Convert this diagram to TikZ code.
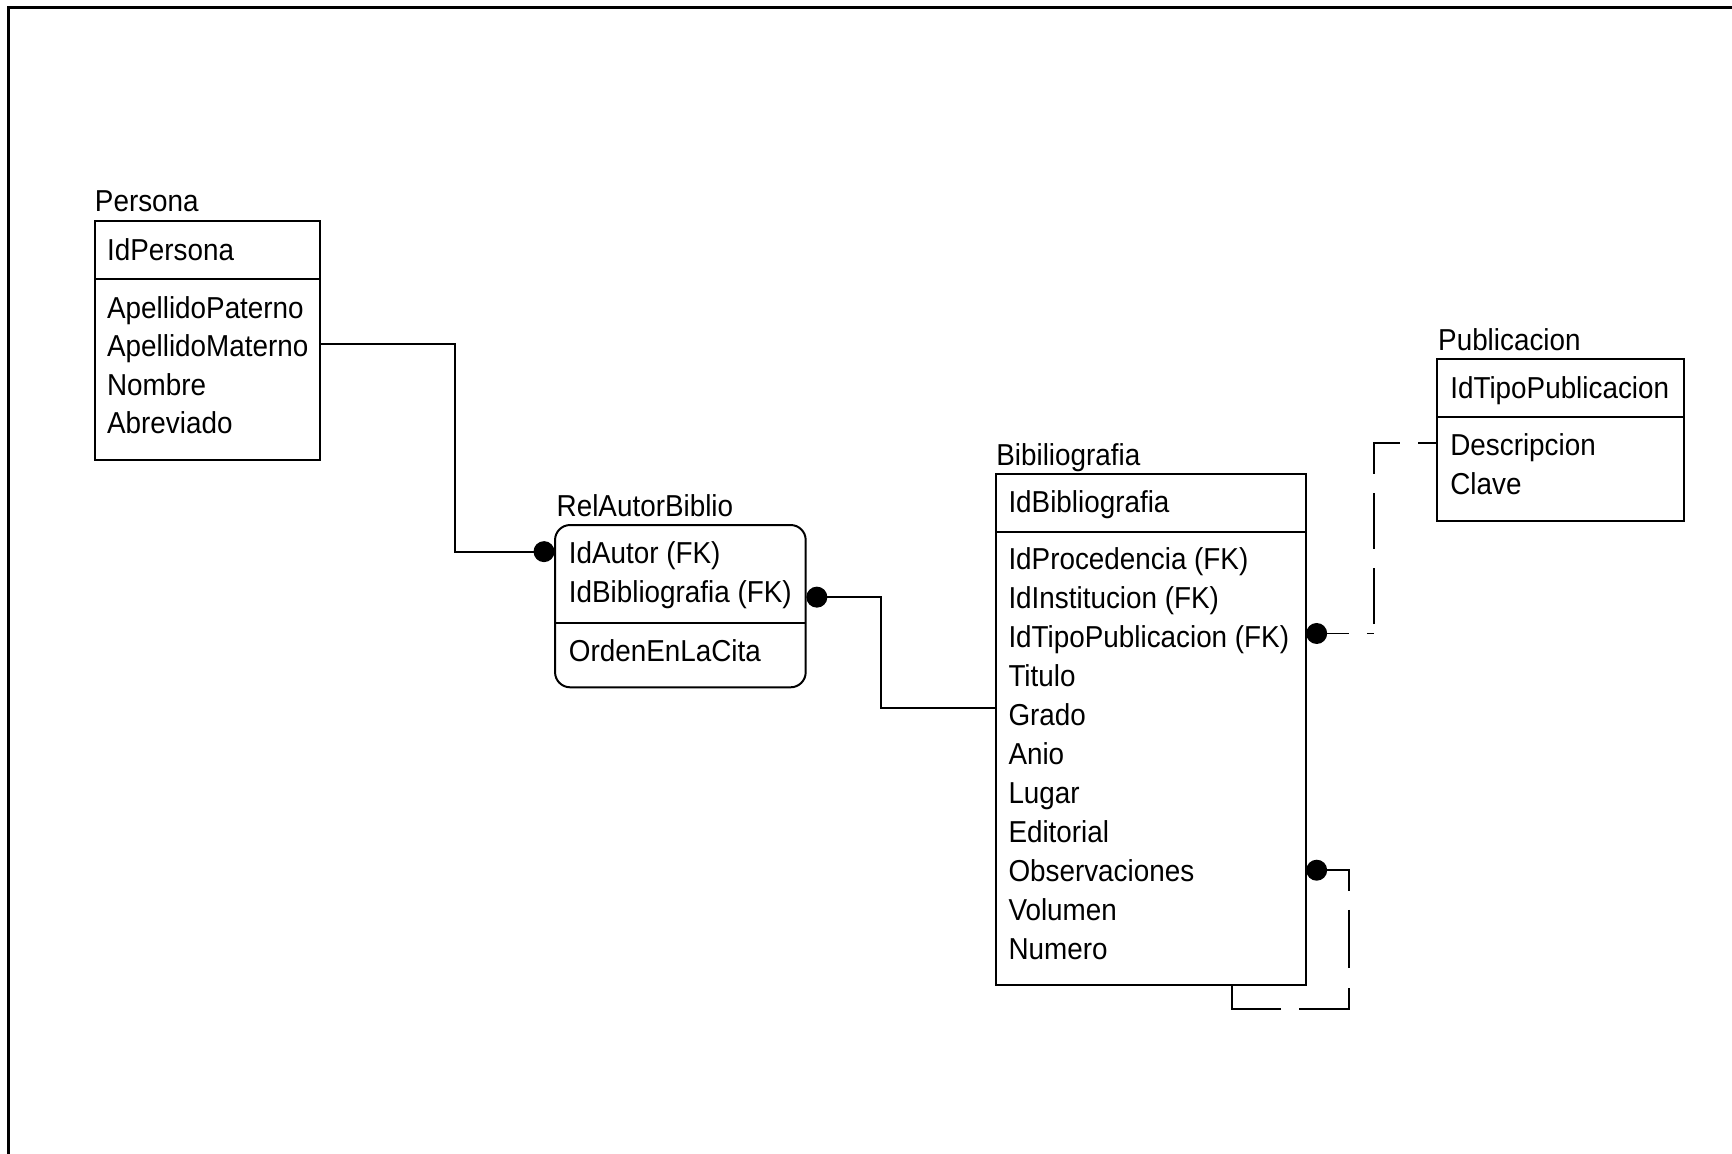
\documentclass[tikz,border=0pt]{standalone}
\usepackage{fontspec}
\setmainfont{Liberation Sans}[FakeStretch=0.92]
\begin{document}
\begin{tikzpicture}[x=0.5pt,y=-0.5pt,
  entity/.style={draw, line width=0.9pt, inner sep=0pt, outer sep=0pt, anchor=north west},
  txt/.style={anchor=base west, inner sep=0pt, outer sep=0pt, font=\fontsize{13.7}{16}\selectfont},
  dot/.style={circle, fill=black, draw=none, inner sep=0pt, outer sep=0pt, minimum size=9.5pt},
  rel/.style={line width=0.85pt},
  dashA/.style={rel, dash pattern=on 10pt off 8pt on 3pt off 4.5pt on 25.5pt off 8.5pt on 25.5pt off 8.5pt on 25.5pt off 8.5pt on 15pt off 20pt},
  dashB/.style={rel, dash pattern=on 19.3pt off 8.65pt on 26.5pt off 9pt on 32pt off 8.25pt on 40pt off 20pt},
  sep/.style={line width=0.9pt},
  frame/.style={line width=1.3pt}]
\useasboundingbox (0,0) rectangle (1568,1044);
% frame
\coordinate (fb) at (8,1060);
\coordinate (ftl) at (8,7);
\coordinate (fr) at (1580,7);
\draw[frame] (fb) -- (ftl) -- (fr);

% ---------- Persona ----------
\node[entity, minimum width=102pt, minimum height=108.3pt] (pers) at (86,199.8) {};
\coordinate (persy) at (0,252.3);
\draw[sep] (pers.west |- persy) -- (pers.east |- persy);
\node[txt] (persT) at (86,191.6) {Persona};
\node[txt] (persK) at (97,235.4) {IdPersona};
\node[txt] (persA1) at (97,288.2) {ApellidoPaterno};
\node[txt] (persA2) at (97,323.1) {ApellidoMaterno};
\node[txt] (persA3) at (97,358.0) {Nombre};
\node[txt] (persA4) at (97,392.8) {Abreviado};

% ---------- RelAutorBiblio ----------
\node[entity, rounded corners=6.8pt, minimum width=113.45pt, minimum height=73.45pt] (rab) at (502.5,475.3) {};
\coordinate (raby) at (0,563.7);
\draw[sep] (rab.west |- raby) -- (rab.east |- raby);
\node[txt] (rabT) at (504,467.7) {RelAutorBiblio};
\node[txt] (rabK1) at (515,510.3) {IdAutor (FK)};
\node[txt] (rabK2) at (515,545.8) {IdBibliografia (FK)};
\node[txt] (rabA1) at (515,599.0) {OrdenEnLaCita};

% ---------- Bibiliografia ----------
\node[entity, minimum width=140.3pt, minimum height=231.15pt] (bib) at (901.4,429.4) {};
\coordinate (biby) at (0,481.9);
\draw[sep] (bib.west |- biby) -- (bib.east |- biby);
\node[txt] (bibT) at (902,421.0) {Bibiliografia};
\node[txt] (bibK) at (913,464.0) {IdBibliografia};
\node[txt] (bibA1) at (913,516.0) {IdProcedencia (FK)};
\node[txt] (bibA2) at (913,551.3) {IdInstitucion (FK)};
\node[txt] (bibA3) at (913,586.6) {IdTipoPublicacion (FK)};
\node[txt] (bibA4) at (913,621.9) {Titulo};
\node[txt] (bibA5) at (913,657.2) {Grado};
\node[txt] (bibA6) at (913,692.5) {Anio};
\node[txt] (bibA7) at (913,727.8) {Lugar};
\node[txt] (bibA8) at (913,763.1) {Editorial};
\node[txt] (bibA9) at (913,798.4) {Observaciones};
\node[txt] (bibA10) at (913,833.7) {Volumen};
\node[txt] (bibA11) at (913,869.0) {Numero};

% ---------- Publicacion ----------
\node[entity, minimum width=111.8pt, minimum height=73.2pt] (pub) at (1301.2,325) {};
\coordinate (puby) at (0,377.2);
\draw[sep] (pub.west |- puby) -- (pub.east |- puby);
\node[txt] (pubT) at (1302,316.9) {Publicacion};
\node[txt] (pubK) at (1313,360.6) {IdTipoPublicacion};
\node[txt] (pubA1) at (1313,412.8) {Descripcion};
\node[txt] (pubA2) at (1313,447.4) {Clave};

% ---------- dots ----------
\node[dot] (d1) at (492.5,499.4) {};
\node[dot] (d2) at (739.5,540.6) {};
\node[dot] (d3) at (1192,573.5) {};
\node[dot] (d4) at (1192,787.8) {};

% ---------- connectors ----------
\coordinate (c1y) at (0,311.4);
\draw[rel] (pers.east |- c1y) -- (412,311.4) |- (d1);

\coordinate (c2y) at (0,640.7);
\draw[rel] (d2) -- (797.6,540.6) |- (bib.west |- c2y);

\coordinate (c3y) at (0,401);
\draw[dashA] (d3) -- (1244,573.5) |- (pub.west |- c3y);

\coordinate (c4x) at (1115,0);
\draw[dashB] (d4) -- (1221.5,787.8) -- (1221.5,913.6) -- (1115,913.6) -- (bib.south -| c4x);
\end{tikzpicture}
\end{document}
